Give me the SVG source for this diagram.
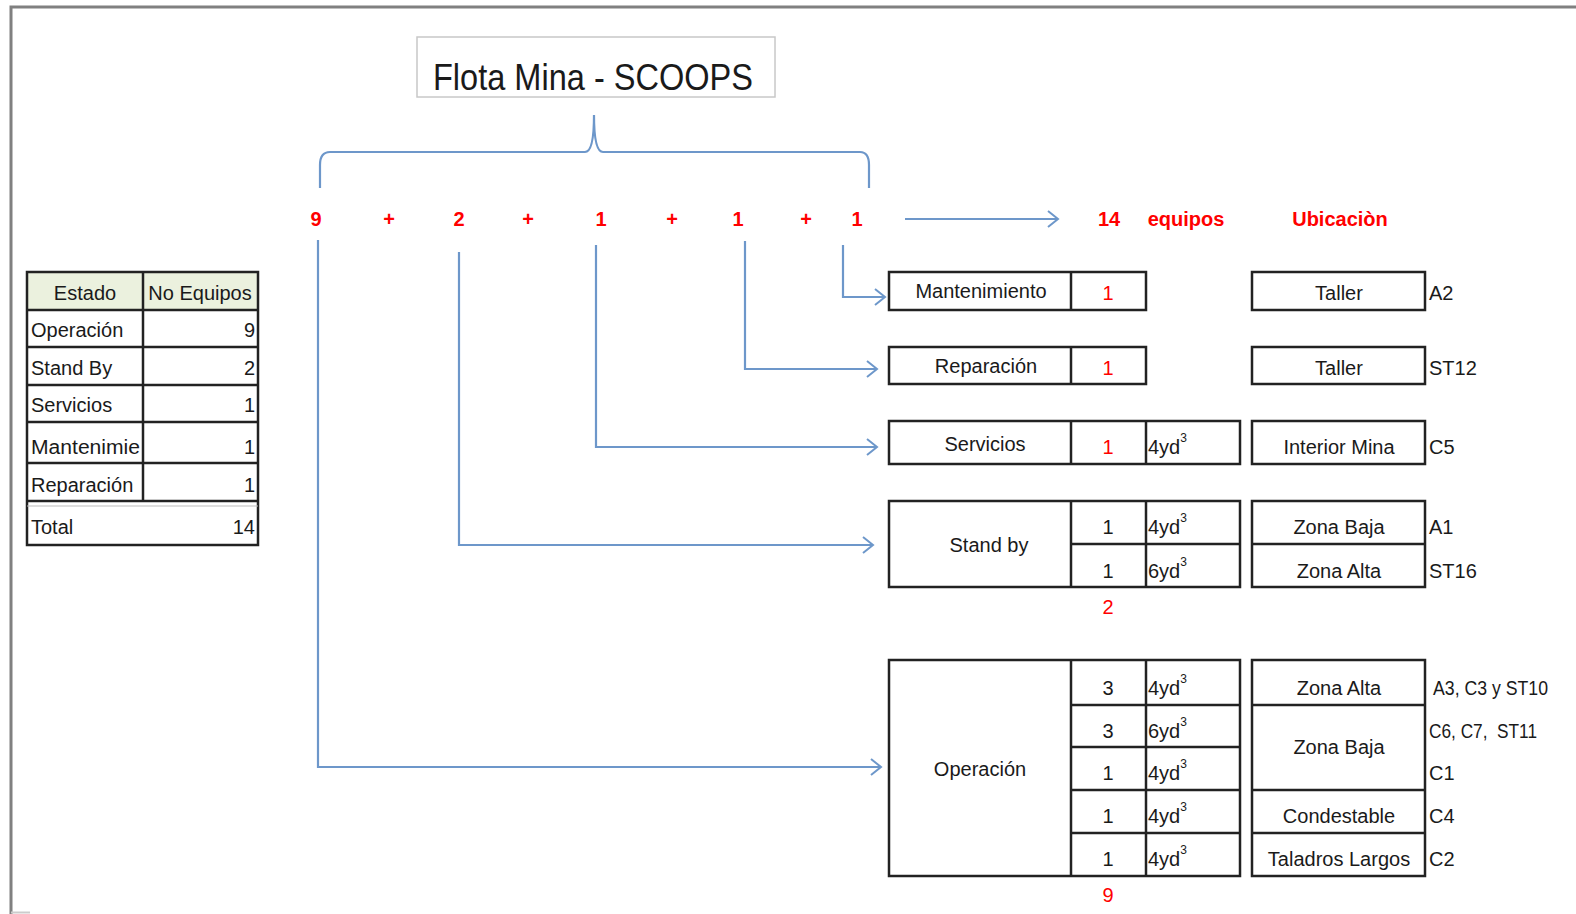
<svg xmlns="http://www.w3.org/2000/svg" width="1576" height="914" viewBox="0 0 1576 914">
<defs>
<marker id="arr" markerUnits="userSpaceOnUse" markerWidth="14" markerHeight="20" refX="12" refY="10" orient="auto" viewBox="0 0 14 20">
<path d="M2,2 L12,10 L2,18" fill="none" stroke="#6d97ca" stroke-width="2"/>
</marker>
<style>
.t{font-family:"Liberation Sans",Arial,sans-serif;font-size:20px;fill:#1a1a1a}
.c{text-anchor:middle}
.r{text-anchor:end}
.red{font-family:"Liberation Sans",Arial,sans-serif;font-size:20px;fill:#ff0000;font-weight:bold;text-anchor:middle}
.redn{font-family:"Liberation Sans",Arial,sans-serif;font-size:20px;fill:#ff0000;text-anchor:middle}
.box{fill:#fff;stroke:#222;stroke-width:2.5}
.ln{stroke:#222;stroke-width:2.5;fill:none}
.con{fill:none;stroke:#6d97ca;stroke-width:2.2}
.sup{font-size:12px}
</style>
</defs>
<rect x="0" y="0" width="1576" height="914" fill="#fff"/>
<path d="M11,914 L11,7 L1576,7" fill="none" stroke="#808080" stroke-width="3"/>
<line x1="11" y1="912.5" x2="30" y2="912.5" stroke="#ccc" stroke-width="2"/>

<g id="title">
<rect x="417" y="37" width="358" height="60" fill="#fff" stroke="#c8c8c8" stroke-width="1.5"/>
<text x="593" y="90" class="t c" style="font-size:37px" textLength="320" lengthAdjust="spacingAndGlyphs">Flota Mina - SCOOPS</text>
</g>

<g id="connectors">
<path class="con" d="M320,188 L320,165 Q320,152 330,152 L585,152 Q594,152 594,115 Q594,152 603,152 L860,152 Q869,152 869,165 L869,188"/>
<line class="con" x1="905" y1="219" x2="1058" y2="219" marker-end="url(#arr)"/>
<path class="con" d="M318,240 L318,767 L881,767" marker-end="url(#arr)"/>
<path class="con" d="M459,252 L459,545 L873,545" marker-end="url(#arr)"/>
<path class="con" d="M596,245 L596,447 L877,447" marker-end="url(#arr)"/>
<path class="con" d="M745,241 L745,369 L877,369" marker-end="url(#arr)"/>
<path class="con" d="M843,245 L843,297 L885,297" marker-end="url(#arr)"/>
</g>

<g id="sum">
<text x="316" y="226" class="red">9</text>
<text x="389" y="226" class="red">+</text>
<text x="459" y="226" class="red">2</text>
<text x="528" y="226" class="red">+</text>
<text x="601" y="226" class="red">1</text>
<text x="672" y="226" class="red">+</text>
<text x="738" y="226" class="red">1</text>
<text x="806" y="226" class="red">+</text>
<text x="857" y="226" class="red">1</text>
<text x="1109" y="226" class="red">14</text>
<text x="1186" y="226" class="red">equipos</text>
<text x="1340" y="226" class="red">Ubicaciòn</text>
</g>

<g id="estado-table">
<rect x="27" y="272" width="231" height="38" fill="#ebf1de"/>
<rect x="27" y="272" width="231" height="273" fill="none" stroke="#222" stroke-width="2.5"/>
<line class="ln" x1="143" y1="272" x2="143" y2="501"/>
<line class="ln" x1="27" y1="310" x2="258" y2="310"/>
<line class="ln" x1="27" y1="347" x2="258" y2="347"/>
<line class="ln" x1="27" y1="385" x2="258" y2="385"/>
<line class="ln" x1="27" y1="422" x2="258" y2="422"/>
<line class="ln" x1="27" y1="463" x2="258" y2="463"/>
<line class="ln" x1="27" y1="501" x2="258" y2="501"/>
<line x1="27" y1="506" x2="258" y2="506" stroke="#bbb" stroke-width="1"/>
<text x="85" y="300" class="t c">Estado</text>
<text x="200" y="300" class="t c">No Equipos</text>
<text x="31" y="337" class="t">Operación</text><text x="255" y="337" class="t r">9</text>
<text x="31" y="375" class="t">Stand By</text><text x="255" y="375" class="t r">2</text>
<text x="31" y="412" class="t">Servicios</text><text x="255" y="412" class="t r">1</text>
<text x="31" y="454" class="t" textLength="109" lengthAdjust="spacingAndGlyphs">Mantenimie</text><text x="255" y="454" class="t r">1</text>
<text x="31" y="492" class="t">Reparación</text><text x="255" y="492" class="t r">1</text>
<text x="31" y="534" class="t">Total</text><text x="255" y="534" class="t r">14</text>
</g>

<g id="mantenimiento">
<rect class="box" x="889" y="272" width="257" height="38"/>
<line class="ln" x1="1071" y1="272" x2="1071" y2="310"/>
<text x="981" y="298" class="t c">Mantenimiento</text>
<text x="1108" y="300" class="redn">1</text>
<rect class="box" x="1252" y="272" width="173" height="38"/>
<text x="1339" y="300" class="t c">Taller</text>
<text x="1429" y="300" class="t">A2</text>
</g>

<g id="reparacion">
<rect class="box" x="889" y="347" width="257" height="37"/>
<line class="ln" x1="1071" y1="347" x2="1071" y2="384"/>
<text x="986" y="373" class="t c">Reparación</text>
<text x="1108" y="375" class="redn">1</text>
<rect class="box" x="1252" y="347" width="173" height="37"/>
<text x="1339" y="375" class="t c">Taller</text>
<text x="1429" y="375" class="t">ST12</text>
</g>

<g id="servicios">
<rect class="box" x="889" y="421" width="351" height="43"/>
<line class="ln" x1="1071" y1="421" x2="1071" y2="464"/>
<line class="ln" x1="1146" y1="421" x2="1146" y2="464"/>
<text x="985" y="451" class="t c">Servicios</text>
<text x="1108" y="454" class="redn">1</text>
<text x="1148" y="454" class="t">4yd<tspan class="sup" dy="-12">3</tspan></text>
<rect class="box" x="1252" y="421" width="173" height="43"/>
<text x="1339" y="454" class="t c">Interior Mina</text>
<text x="1429" y="454" class="t">C5</text>
</g>

<g id="standby">
<rect class="box" x="889" y="501" width="351" height="86"/>
<line class="ln" x1="1071" y1="501" x2="1071" y2="587"/>
<line class="ln" x1="1146" y1="501" x2="1146" y2="587"/>
<line class="ln" x1="1071" y1="544" x2="1240" y2="544"/>
<text x="989" y="552" class="t c">Stand by</text>
<text x="1108" y="534" class="t c">1</text>
<text x="1148" y="534" class="t">4yd<tspan class="sup" dy="-12">3</tspan></text>
<text x="1108" y="578" class="t c">1</text>
<text x="1148" y="578" class="t">6yd<tspan class="sup" dy="-12">3</tspan></text>
<rect class="box" x="1252" y="501" width="173" height="86"/>
<line class="ln" x1="1252" y1="544" x2="1425" y2="544"/>
<text x="1339" y="534" class="t c">Zona Baja</text>
<text x="1339" y="578" class="t c">Zona Alta</text>
<text x="1429" y="534" class="t">A1</text>
<text x="1429" y="578" class="t">ST16</text>
<text x="1108" y="614" class="redn">2</text>
</g>

<g id="operacion">
<rect class="box" x="889" y="660" width="351" height="216"/>
<line class="ln" x1="1071" y1="660" x2="1071" y2="876"/>
<line class="ln" x1="1146" y1="660" x2="1146" y2="876"/>
<line class="ln" x1="1071" y1="705" x2="1240" y2="705"/>
<line class="ln" x1="1071" y1="747" x2="1240" y2="747"/>
<line class="ln" x1="1071" y1="790" x2="1240" y2="790"/>
<line class="ln" x1="1071" y1="833" x2="1240" y2="833"/>
<text x="980" y="776" class="t c">Operación</text>
<text x="1108" y="695" class="t c">3</text>
<text x="1148" y="695" class="t">4yd<tspan class="sup" dy="-12">3</tspan></text>
<text x="1108" y="738" class="t c">3</text>
<text x="1148" y="738" class="t">6yd<tspan class="sup" dy="-12">3</tspan></text>
<text x="1108" y="780" class="t c">1</text>
<text x="1148" y="780" class="t">4yd<tspan class="sup" dy="-12">3</tspan></text>
<text x="1108" y="823" class="t c">1</text>
<text x="1148" y="823" class="t">4yd<tspan class="sup" dy="-12">3</tspan></text>
<text x="1108" y="866" class="t c">1</text>
<text x="1148" y="866" class="t">4yd<tspan class="sup" dy="-12">3</tspan></text>
<rect class="box" x="1252" y="660" width="173" height="216"/>
<line class="ln" x1="1252" y1="705" x2="1425" y2="705"/>
<line class="ln" x1="1252" y1="790" x2="1425" y2="790"/>
<line class="ln" x1="1252" y1="833" x2="1425" y2="833"/>
<text x="1339" y="695" class="t c">Zona Alta</text>
<text x="1339" y="754" class="t c">Zona Baja</text>
<text x="1339" y="823" class="t c">Condestable</text>
<text x="1339" y="866" class="t c">Taladros Largos</text>
<text x="1433" y="695" class="t" textLength="115" lengthAdjust="spacingAndGlyphs">A3, C3 y ST10</text>
<text x="1429" y="738" class="t" textLength="108" lengthAdjust="spacingAndGlyphs">C6, C7, &#160;ST11</text>
<text x="1429" y="780" class="t">C1</text>
<text x="1429" y="823" class="t">C4</text>
<text x="1429" y="866" class="t">C2</text>
<text x="1108" y="902" class="redn">9</text>
</g>
</svg>
